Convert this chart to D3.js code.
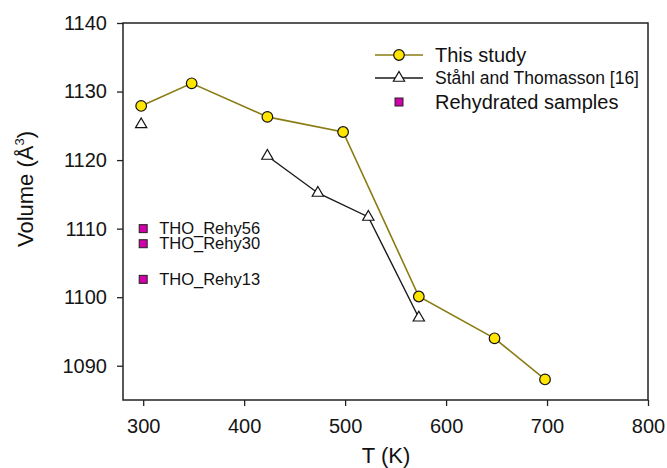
<!DOCTYPE html>
<html>
<head>
<meta charset="utf-8">
<script src="https://cdn.jsdelivr.net/npm/d3@7"></script>
<style>
  body { margin: 0; background: #fff; }
  svg { font-family: "Liberation Sans", Arial, sans-serif; }
</style>
</head>
<body>
<div id="container"></div>
<script>
/* CONSTANTS AND GLOBALS */
const width = 667,
  height = 468;

/* DATA */
// This study
const studyT = [298, 348, 423, 498, 573, 648, 698];
const studyV = [1127.9, 1131.2, 1126.3, 1124.1, 1100.1, 1094.0, 1088.0];
// Ståhl and Thomasson [16] (first point not joined)
const stahlT = [298, 423, 473, 523, 573];
const stahlV = [1125.2, 1120.6, 1115.2, 1111.7, 1097.0];
// rehydrated samples
const rehyNames = ["THO_Rehy56", "THO_Rehy30", "THO_Rehy13"];
const rehyT = [300, 300, 300];
const rehyV = [1110.0, 1107.8, 1102.6];

const xTicks = [300, 400, 500, 600, 700, 800];
const yTicks = [1090, 1100, 1110, 1120, 1130, 1140];
const legendLabels = ["This study", "Ståhl and Thomasson [16]", "Rehydrated samples"];

const olive = "#8a7c12",
  yellow = "#ffe500",
  magenta = "#d000a8";

/* SCALES */
const xScale = d3.scaleLinear().domain([280, 800]).range([123, 648]);
const yScale = d3.scaleLinear().domain([1085, 1140]).range([400, 23]);

const svg = d3.select("#container")
  .append("svg")
  .attr("width", width)
  .attr("height", height);

// axes
const xAxis = d3.axisBottom(xScale).tickValues(xTicks).tickFormat(d3.format("d"))
  .tickSize(6).tickPadding(13).tickSizeOuter(0);
const yAxis = d3.axisLeft(yScale).tickValues(yTicks).tickFormat(d3.format("d"))
  .tickSize(6).tickPadding(10).tickSizeOuter(0);

const gx = svg.append("g").attr("transform", `translate(0,${yScale(1085)})`).call(xAxis);
const gy = svg.append("g").attr("transform", `translate(${xScale(280)},0)`).call(yAxis);
[gx, gy].forEach(g => {
  g.select(".domain").remove();
  g.selectAll("line").attr("stroke", "#222").attr("stroke-width", 1.3);
  g.selectAll("text").attr("font-size", 20).attr("fill", "#151515")
    .attr("font-family", "'Liberation Sans', Arial, sans-serif");
});

// frame
svg.append("rect")
  .attr("x", xScale(280))
  .attr("y", yScale(1140))
  .attr("width", xScale(800) - xScale(280))
  .attr("height", yScale(1085) - yScale(1140))
  .attr("fill", "none")
  .attr("stroke", "#222")
  .attr("stroke-width", 1.5);

// axis titles
svg.append("text")
  .attr("x", 386).attr("y", 463)
  .attr("text-anchor", "middle")
  .attr("font-size", 22).attr("fill", "#111")
  .text("T (K)");

const yTitle = svg.append("text")
  .attr("transform", "translate(33,189) rotate(-90)")
  .attr("text-anchor", "middle")
  .attr("font-size", 22).attr("fill", "#111");
yTitle.append("tspan").text("Volume (Å");
yTitle.append("tspan").attr("font-size", 13).attr("dy", -9).text("3");
yTitle.append("tspan").attr("dy", 9).text(")");

/* LINES */
const study = studyT.map((t, i) => ({ t, v: studyV[i] }));
const stahl = stahlT.map((t, i) => ({ t, v: stahlV[i] }));
const rehy = rehyT.map((t, i) => ({ t, v: rehyV[i], name: rehyNames[i] }));

const line = d3.line().x(d => xScale(d.t)).y(d => yScale(d.v));

svg.append("path")
  .attr("d", line(stahl.slice(1)))
  .attr("fill", "none")
  .attr("stroke", "#1a1a1a")
  .attr("stroke-width", 1.4);

svg.append("path")
  .attr("d", line(study))
  .attr("fill", "none")
  .attr("stroke", olive)
  .attr("stroke-width", 1.6);

const tri = d3.symbol().type(d3.symbolTriangle).size(55);

svg.selectAll("path.tri")
  .data(stahl)
  .join("path")
  .attr("class", "tri")
  .attr("d", tri)
  .attr("transform", d => `translate(${xScale(d.t)},${yScale(d.v)})`)
  .attr("fill", "#fff")
  .attr("stroke", "#111")
  .attr("stroke-width", 1.2);

svg.selectAll("circle.study")
  .data(study)
  .join("circle")
  .attr("class", "study")
  .attr("cx", d => xScale(d.t))
  .attr("cy", d => yScale(d.v))
  .attr("r", 5.3)
  .attr("fill", yellow)
  .attr("stroke", "#111")
  .attr("stroke-width", 1.2);

svg.selectAll("rect.rehy")
  .data(rehy)
  .join("rect")
  .attr("class", "rehy")
  .attr("x", d => xScale(d.t) - 4)
  .attr("y", d => yScale(d.v) - 4)
  .attr("width", 8)
  .attr("height", 8)
  .attr("fill", magenta)
  .attr("stroke", "#222")
  .attr("stroke-width", 1);

svg.selectAll("text.rehy")
  .data(rehy)
  .join("text")
  .attr("class", "rehy")
  .attr("x", d => xScale(d.t) + 16)
  .attr("y", d => yScale(d.v) + 5.5)
  .attr("font-size", 16.5)
  .attr("fill", "#111")
  .text(d => d.name);

/* LEGEND */
const legendY = [55, 78, 102];
const lg = svg.append("g");
// This study
lg.append("line").attr("x1", 375).attr("x2", 423).attr("y1", legendY[0]).attr("y2", legendY[0])
  .attr("stroke", olive).attr("stroke-width", 1.6);
lg.append("circle").attr("cx", 399).attr("cy", legendY[0]).attr("r", 5.3)
  .attr("fill", yellow).attr("stroke", "#111").attr("stroke-width", 1.2);
// Stahl
lg.append("line").attr("x1", 375).attr("x2", 423).attr("y1", legendY[1]).attr("y2", legendY[1])
  .attr("stroke", "#1a1a1a").attr("stroke-width", 1.4);
lg.append("path").attr("d", tri).attr("transform", `translate(399,${legendY[1]})`)
  .attr("fill", "#fff").attr("stroke", "#111").attr("stroke-width", 1.2);
// Rehydrated
lg.append("rect").attr("x", 395).attr("y", legendY[2] - 4).attr("width", 8).attr("height", 8)
  .attr("fill", magenta).attr("stroke", "#222").attr("stroke-width", 1);

lg.selectAll("text")
  .data(legendLabels)
  .join("text")
  .attr("x", 435)
  .attr("y", (d, i) => legendY[i] + (i === 1 ? 6 : 7))
  .attr("font-size", (d, i) => i === 1 ? 17.5 : 20)
  .attr("fill", "#111")
  .text(d => d);
</script>
</body>
</html>
